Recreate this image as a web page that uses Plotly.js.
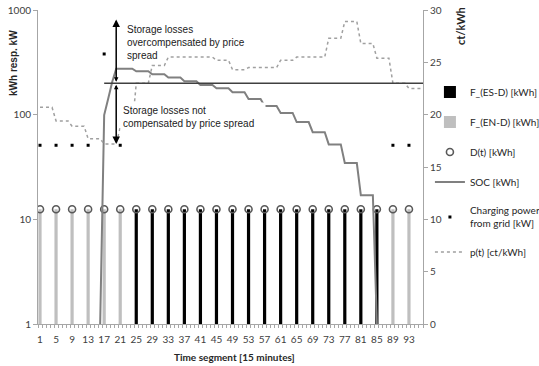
<!DOCTYPE html>
<html>
<head>
<meta charset="utf-8">
<script src="https://cdn.plot.ly/plotly-3.0.1.min.js"></script>
<style>
html,body{margin:0;padding:0;background:#fff;}
#chart{width:539px;height:366px;}
</style>
</head>
<body>
<div id="chart"></div>
<script>
// ---- data ----
var timeSeg = [1,2,3,4,5,6,7,8,9,10,11,12,13,14,15,16,17,18,19,20,21,22,23,24,25,26,27,28,29,30,31,32,33,34,35,36,37,38,39,40,41,42,43,44,45,46,47,48,49,50,51,52,53,54,55,56,57,58,59,60,61,62,63,64,65,66,67,68,69,70,71,72,73,74,75,76,77,78,79,80,81,82,83,84,85,86,87,88,89,90,91,92,93,94,95,96];
var tickVals = [1,5,9,13,17,21,25,29,33,37,41,45,49,53,57,61,65,69,73,77,81,85,89,93];
var tickText = ["1","5","9","13","17","21","25","29","33","37","41","45","49","53","57","61","65","69","73","77","81","85","89","93"];

// F_(ES-D): discharge from storage to demand [kWh]
var esdX = [25,29,33,37,41,45,49,53,57,61,65,69,73,77,81,85];
var esdY = [12.5,12.5,12.5,12.5,12.5,12.5,12.5,12.5,12.5,12.5,12.5,12.5,12.5,12.5,12.5,12.5];
// F_(EN-D): energy from network to demand [kWh]
var endX = [1,5,9,13,17,21,89,93];
var endY = [12.5,12.5,12.5,12.5,12.5,12.5,12.5,12.5];
// D(t) demand [kWh]
var demX = [1,5,9,13,17,21,25,29,33,37,41,45,49,53,57,61,65,69,73,77,81,85,89,93];
var demY = [12.5,12.5,12.5,12.5,12.5,12.5,12.5,12.5,12.5,12.5,12.5,12.5,12.5,12.5,12.5,12.5,12.5,12.5,12.5,12.5,12.5,12.5,12.5,12.5];
// SOC [kWh]
var socY = [null,null,null,null,null,null,null,null,null,null,null,null,null,null,null,1,
  99,142,205,275,275,275,275,275,
  260,260,260,260, 243,243,243,243, 226,226,226,226, 209,209,209,209,
  192,192,192,192, 179,179,179,179, 164,164,164,164, 141,141,141,141,
  121,121,121,121, 104,104,104,104, 85,85,85,85, 68,68,68,68,
  52,52,52,52, 34.5,34.5,34.5,34.5, 17,17,17,17, 1,
  null,null,null,null,null,null,null,null,null,null,null];
// Charging power from grid [kW]
var chgX = [1,5,9,13,17,21,89,93];
var chgY = [51,51,51,51,380,51,51,51];
// p(t) [ct/kWh]
var priceY = [20.7,20.7,20.7,20.7, 19.4,19.4,19.4,19.4, 18.9,18.9,18.9,18.9, 17.7,17.7,17.7,17.7,
  17.2,17.2,17.2,17.2, 18.8,18.8,18.8,18.8, 23.0,23.0,23.0,23.0, 24.7,24.7,24.7,24.7,
  25.5,25.5,25.5,25.5, 25.5,25.5,25.5,25.5, 25.5,25.5,25.5,25.5, 25.2,25.2,25.2,25.2,
  24.3,24.3,24.3,24.3, 24.5,24.5,24.5,24.5, 24.5,24.5,24.5,24.5, 25.2,25.2,25.2,25.2,
  25.5,25.5,25.5,25.5, 25.5,25.5,25.5,25.5, 27.3,27.3,27.3,27.3, 28.9,28.9,28.9,28.9,
  26.8,26.8,26.8,26.8, 25.4,25.4,25.4,25.4, 23.0,23.0,23.0,23.0, 22.5,22.5,22.5,22.5];
// break-even price line [ct/kWh]
var thrX = [17, 96.5];
var thrY = [23, 23];
// price spread arrows
var spreadX = 20;
var spreadHigh = 29.1;
var spreadLow = 17.2;
var spreadMid = 23;

var tickFont = {family: 'Lato, "Open Sans", sans-serif', size: 10, color: '#404040'};
var axisGrey = '#a6a6a6';

var data = [
  {type:'bar', name:'F_(ES-D) [kWh]', x: esdX, y: esdY, width: 0.8,
   marker:{color:'#000000'}, legendgroup:'a'},
  {type:'bar', name:'F_(EN-D) [kWh]', x: endX, y: endY, width: 0.8,
   marker:{color:'#bfbfbf'}, legendgroup:'b'},
  {type:'scatter', mode:'markers', name:'D(t) [kWh]', x: demX, y: demY,
   marker:{symbol:'circle-open', size:7, color:'#595959', line:{width:1.6, color:'#595959'}}, legendgroup:'c'},
  {type:'scatter', mode:'lines', name:'SOC [kWh]', x: timeSeg, y: socY,
   line:{color:'#808080', width:2}, connectgaps:false, legendgroup:'d'},
  {type:'scatter', mode:'markers', name:'Charging power<br>from grid [kW]', x: chgX, y: chgY,
   marker:{symbol:'square', size:3, color:'#000000'}, legendgroup:'e'},
  {type:'scatter', mode:'lines', name:'p(t) [ct/kWh]', x: timeSeg, y: priceY, yaxis:'y2',
   line:{color:'#a0a0a0', width:1.5, dash:'dot'}, legendgroup:'f'},
  {type:'scatter', mode:'lines', name:'threshold', x: thrX, y: thrY, yaxis:'y2',
   line:{color:'#404040', width:1.3}, showlegend:false, hoverinfo:'skip'}
];

var layout = {
  width: 539, height: 366,
  margin: {l:38, r:116, t:10, b:42, pad:0, autoexpand:false},
  paper_bgcolor:'#ffffff', plot_bgcolor:'#ffffff',
  showlegend: true,
  barmode: 'overlay',
  xaxis: {
    range:[0.5, 96.5], tickmode:'array', tickvals: tickVals, ticktext: tickText,
    ticks:'', showgrid:false, zeroline:false, showline:true, linecolor: axisGrey, linewidth:1,
    tickfont: tickFont, ticklabelstandoff: 6, automargin:false,
    minor: {ticks:'outside', tick0:0.5, dtick:1, ticklen:3, tickcolor: axisGrey, showgrid:false}
  },
  yaxis: {
    type:'log', range:[0,3], tickmode:'array', tickvals:[1,10,100,1000], ticktext:['1','10','100','1000'],
    ticks:'outside', ticklen:4, tickcolor: axisGrey, showgrid:false, zeroline:false, automargin:false,
    showline:true, linecolor: axisGrey, linewidth:1, tickfont: tickFont
  },
  yaxis2: {
    overlaying:'y', side:'right', range:[0,30], dtick:5, tick0:0, automargin:false,
    ticks:'outside', ticklen:4, tickcolor: axisGrey, showgrid:false, zeroline:false,
    showline:true, linecolor: axisGrey, linewidth:1, tickfont: tickFont
  },
  legend: {
    x: 1.018, xanchor:'left', y: 0.785, yanchor:'top',
    font: {family: 'Lato, "Open Sans", sans-serif', size: 10, color:'#262626'},
    bgcolor:'rgba(0,0,0,0)', tracegroupgap: 11, traceorder:'grouped'
  },
  annotations: [
    {xref:'paper', yref:'paper', x:(14-38)/385, y:(324-63)/314, xanchor:'center', yanchor:'middle',
     text:'<b>kWh resp. kW</b>', showarrow:false,
     textangle:-90, font:{family:'"Liberation Sans", Arial, sans-serif', size:10, color:'#262626'}},
    {xref:'paper', yref:'paper', x:(461-38)/385, y:(324-26)/314, xanchor:'center', yanchor:'middle',
     text:'<b>ct/kWh</b>', showarrow:false,
     textangle:-90, font:{family:'Lato, sans-serif', size:11, color:'#262626'}},
    {xref:'paper', yref:'paper', x:(235-38)/385, y:(324-357)/314, xanchor:'center', yanchor:'middle',
     text:'<b>Time segment [15 minutes]</b>', showarrow:false,
     font:{family:'Lato, sans-serif', size:10, color:'#262626'}},
    {xref:'x', yref:'y2', x: spreadX, y: spreadHigh, ax: spreadX, ay: spreadMid, axref:'x', ayref:'y2',
     text:'', showarrow:true, arrowhead:2, arrowsize:1, arrowwidth:1.5, arrowcolor:'#000',
     arrowside:'end+start', startarrowhead:2, startarrowsize:0.6, standoff:0, startstandoff:0},
    {xref:'x', yref:'y2', x: spreadX, y: spreadLow, ax: spreadX, ay: spreadMid, axref:'x', ayref:'y2',
     text:'', showarrow:true, arrowhead:2, arrowsize:1, arrowwidth:1.5, arrowcolor:'#000',
     arrowside:'end+start', startarrowhead:2, startarrowsize:0.6, standoff:0, startstandoff:0},
    {xref:'x', yref:'y2', x: 22.1, y: 28.9, xanchor:'left', yanchor:'top', align:'left', showarrow:false,
     text:'Storage losses<br>overcompensated by price<br>spread', borderpad:1,
     font:{family:'"Liberation Sans", Arial, sans-serif', size:10, color:'#1a1a1a'}},
    {xref:'x', yref:'y2', x: 20.95, y: 19.8, xanchor:'left', yanchor:'middle', align:'left', showarrow:false,
     text:'Storage losses not<br>compensated by price spread', borderpad:2, bgcolor:'#ffffff', width:140,
     font:{family:'"Liberation Sans", Arial, sans-serif', size:10, color:'#1a1a1a'}}
  ]
};

Plotly.newPlot('chart', data, layout, {displayModeBar:false, staticPlot:true});
</script>
</body>
</html>
